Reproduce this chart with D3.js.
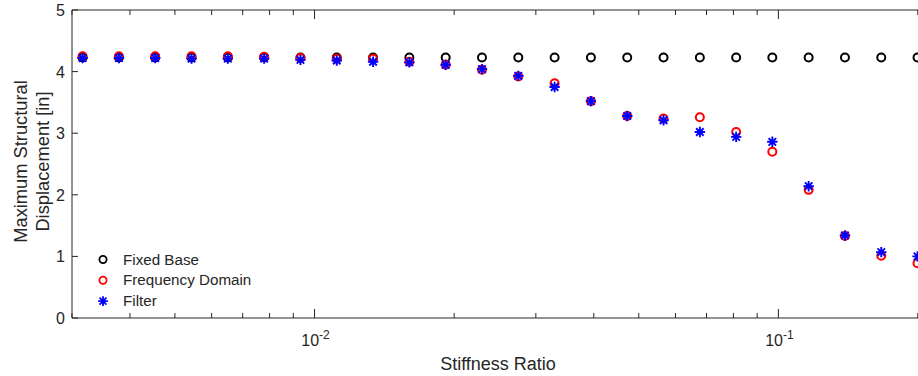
<!DOCTYPE html>
<html>
<head>
<meta charset="utf-8">
<script src="https://cdn.jsdelivr.net/npm/d3@7"></script>
<style>
  body { margin: 0; background: #fff; }
  text { font-family: "Liberation Sans", Arial, Helvetica, sans-serif; fill: #262626; }
</style>
</head>
<body>
<div id="chart"></div>
<script>
// stiffness ratios (log spaced)
var stiffness = [0.003162, 0.003787, 0.004534, 0.005430, 0.006502, 0.007787, 0.009325, 0.011167,
    0.013372, 0.016013, 0.019176, 0.022963, 0.027499, 0.032930, 0.039434, 0.047223,
    0.056550, 0.067719, 0.081095, 0.097042, 0.116214, 0.139167, 0.166654, 0.199526];

var fixedBase = [4.23, 4.23, 4.23, 4.23, 4.23, 4.23, 4.23, 4.23, 4.23, 4.23, 4.23, 4.23,
    4.23, 4.23, 4.23, 4.23, 4.23, 4.23, 4.23, 4.23, 4.23, 4.23, 4.23, 4.23];

var freqDomain = [4.25, 4.25, 4.25, 4.25, 4.25, 4.24, 4.22, 4.21, 4.21, 4.16, 4.11, 4.03,
    3.92, 3.81, 3.52, 3.28, 3.24, 3.26, 3.02, 2.70, 2.08, 1.33, 1.01, 0.89];

var filterVals = [4.22, 4.22, 4.22, 4.21, 4.21, 4.21, 4.19, 4.18, 4.16, 4.15, 4.11, 4.04,
    3.93, 3.75, 3.52, 3.28, 3.21, 3.02, 2.94, 2.86, 2.14, 1.34, 1.07, 1.00];

var yTicks = [0, 1, 2, 3, 4, 5];
var legendNames = ["Fixed Base", "Frequency Domain", "Filter"];

var W = 918, H = 376;
var margin = {top: 10, right: 0, bottom: 58, left: 72};
var axisColor = "#262626";

var svg = d3.select("#chart").append("svg")
    .attr("width", W)
    .attr("height", H);

var x = d3.scaleLog()
    .domain([0.003, 0.2])
    .range([margin.left, W - margin.right]);

var y = d3.scaleLinear()
    .domain([0, 5])
    .range([H - margin.bottom, margin.top]);

var plotBottom = H - margin.bottom, plotTop = margin.top;

// minor + major log ticks
var allTicks = [];
[0.001, 0.01, 0.1].forEach(function(dec) {
    for (var m = 1; m <= 9; m++) {
        var v = +(dec * m).toPrecision(3);
        if (v >= 0.003 && v <= 0.2) allTicks.push(v);
    }
});
allTicks.push(0.2);

var g = svg.append("g");

allTicks.forEach(function(v) {
    var major = (v === 0.01 || v === 0.1);
    var len = major ? 9 : 5;
    g.append("line")
        .attr("x1", x(v)).attr("x2", x(v))
        .attr("y1", plotBottom).attr("y2", plotBottom - len)
        .attr("stroke", axisColor).attr("stroke-width", 1);
    g.append("line")
        .attr("x1", x(v)).attr("x2", x(v))
        .attr("y1", plotTop).attr("y2", plotTop + len)
        .attr("stroke", axisColor).attr("stroke-width", 1);
});

yTicks.forEach(function(v) {
    g.append("line")
        .attr("x1", margin.left).attr("x2", margin.left + 6)
        .attr("y1", y(v)).attr("y2", y(v))
        .attr("stroke", axisColor).attr("stroke-width", 1);
    g.append("text")
        .attr("x", margin.left - 7)
        .attr("y", y(v) + 6)
        .attr("text-anchor", "end")
        .style("font-size", "16px")
        .text(v);
});

// axis box (left, top, bottom)
g.append("path")
    .attr("d", "M" + (W) + "," + plotTop + "H" + margin.left + "V" + plotBottom + "H" + W)
    .attr("fill", "none")
    .attr("stroke", axisColor)
    .attr("stroke-width", 1);

// decade labels
[[0.01, "-2"], [0.1, "-1"]].forEach(function(d) {
    var t = g.append("text")
        .attr("x", x(d[0]) + 1)
        .attr("y", plotBottom + 28)
        .attr("text-anchor", "middle")
        .style("font-size", "16px");
    t.append("tspan").text("10");
    t.append("tspan").attr("dy", -7).style("font-size", "12px").text(d[1]);
});

// axis titles
svg.append("text")
    .attr("x", (margin.left + W) / 2 + 3)
    .attr("y", 370)
    .attr("text-anchor", "middle")
    .style("font-size", "18px")
    .text("Stiffness Ratio");

var yt = svg.append("text")
    .attr("transform", "translate(27,161.5) rotate(-90)")
    .attr("text-anchor", "middle")
    .style("font-size", "18.3px");
yt.append("tspan").attr("x", 0).attr("dy", 0).text("Maximum Structural");
yt.append("tspan").attr("x", 0).attr("dy", 21.5).text("Displacement [in]");

// markers
function circles(vals, color) {
    svg.append("g").selectAll("circle")
        .data(vals)
        .enter().append("circle")
        .attr("cx", function(d, i) { return x(stiffness[i]); })
        .attr("cy", function(d) { return y(d); })
        .attr("r", 4)
        .attr("fill", "none")
        .attr("stroke", color)
        .attr("stroke-width", 2);
}

function star(cx, cy, r) {
    var k = r * 0.72;
    return "M" + (cx - r) + "," + cy + "H" + (cx + r) +
        "M" + cx + "," + (cy - r) + "V" + (cy + r) +
        "M" + (cx - k) + "," + (cy - k) + "L" + (cx + k) + "," + (cy + k) +
        "M" + (cx - k) + "," + (cy + k) + "L" + (cx + k) + "," + (cy - k);
}

circles(fixedBase, "#000000");
circles(freqDomain, "#ff0000");

svg.append("g").selectAll("path")
    .data(filterVals)
    .enter().append("path")
    .attr("d", function(d, i) { return star(x(stiffness[i]), y(d), 5.2); })
    .attr("stroke", "#0000ff")
    .attr("stroke-width", 1.9)
    .attr("fill", "none");

// legend
var legColors = ["#000000", "#ff0000", "#0000ff"];
legendNames.forEach(function(name, i) {
    var ly = 259.5 + i * 20.8;
    if (i < 2) {
        svg.append("circle")
            .attr("cx", 103).attr("cy", ly).attr("r", 3.6)
            .attr("fill", "none").attr("stroke", legColors[i]).attr("stroke-width", 1.8);
    } else {
        svg.append("path")
            .attr("d", star(103, ly, 4.8))
            .attr("stroke", legColors[i]).attr("stroke-width", 1.8).attr("fill", "none");
    }
    svg.append("text")
        .attr("x", 123)
        .attr("y", ly + 5)
        .style("font-size", "15.2px")
        .text(name);
});
</script>
</body>
</html>
